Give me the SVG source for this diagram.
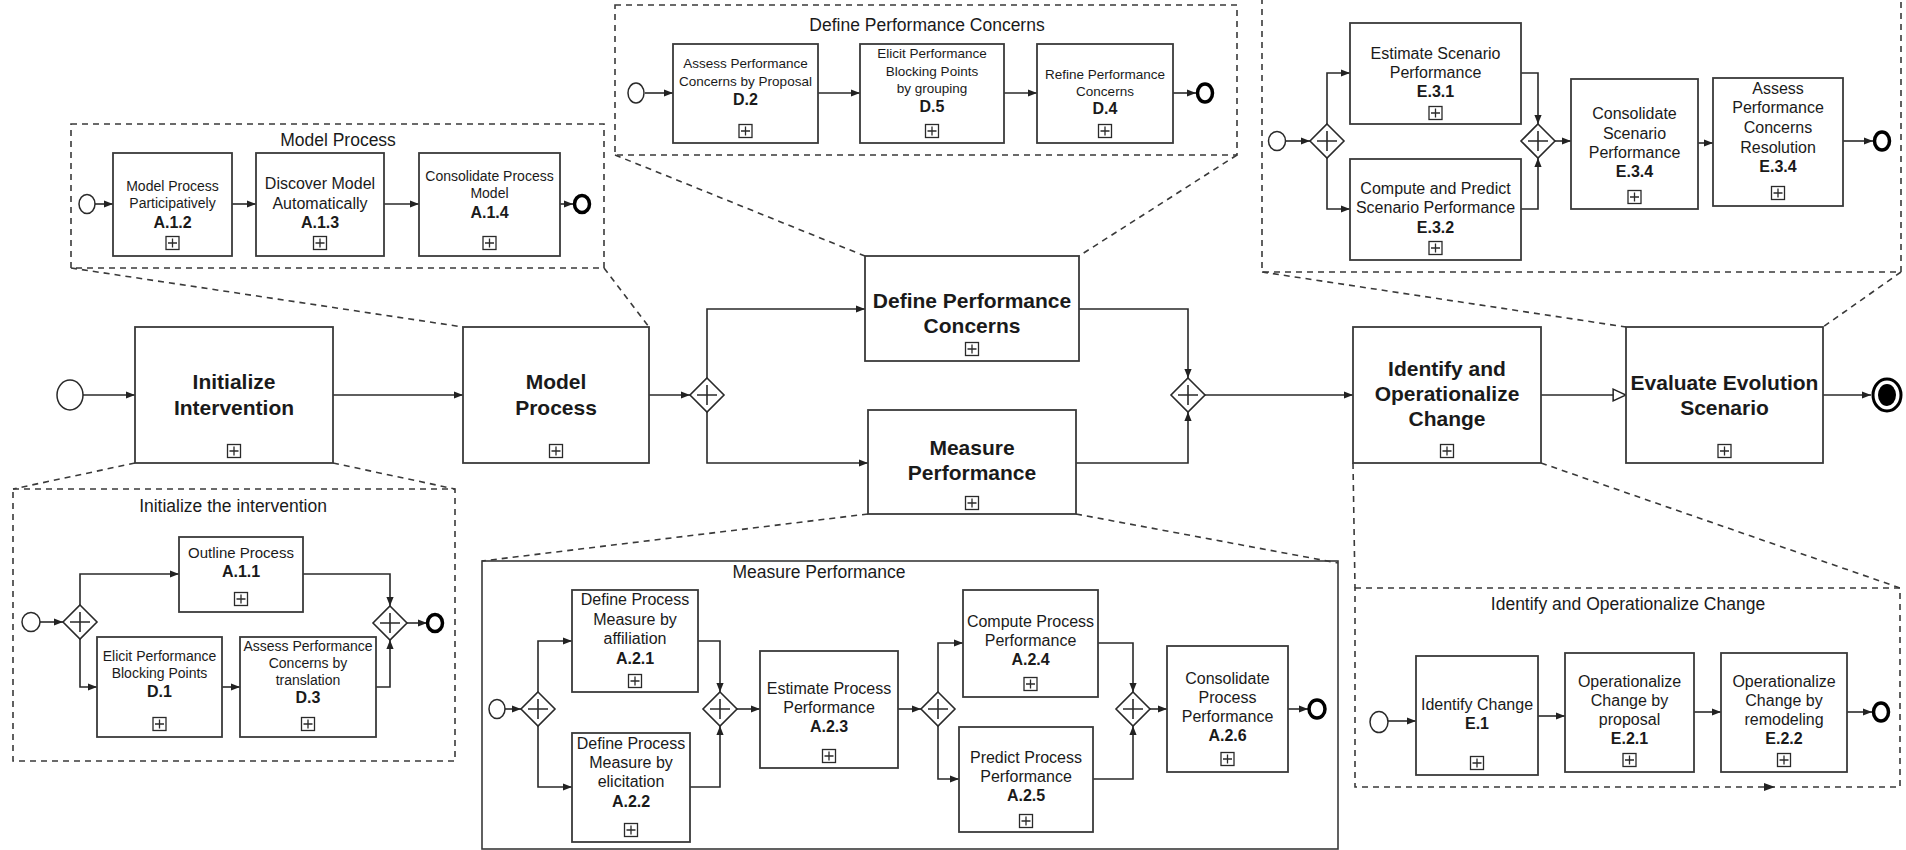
<svg xmlns="http://www.w3.org/2000/svg" xmlns:xlink="http://www.w3.org/1999/xlink" width="1906" height="850" viewBox="0 0 1906 850">
<style>
.box{fill:#fff;stroke:#3a3a3a;stroke-width:1.8}
.dash{fill:none;stroke:#3a3a3a;stroke-width:1.6;stroke-dasharray:6 5}
.fl{fill:none;stroke:#2a2a2a;stroke-width:1.6;marker-end:url(#a)}
.st{fill:#fff;stroke:#2a2a2a;stroke-width:1.5}
.en{fill:#fff;stroke:#000;stroke-width:3.5}
text{font-family:"Liberation Sans",Arial,Helvetica,sans-serif;text-anchor:middle;dominant-baseline:central;fill:#1a1a1a}
.m{font-size:21px;font-weight:bold}
.ti{font-size:17.5px}
.b{font-weight:bold}
.s13{font-size:13.5px}
.s14{font-size:14px}
.s16{font-size:16px}
</style>
<defs>
<marker id="a" viewBox="0 0 10 10" refX="10" refY="5" markerWidth="9" markerHeight="9" markerUnits="userSpaceOnUse" orient="auto"><path d="M0,1 L10,5 L0,9 Z" fill="#222"/></marker>
<marker id="o" viewBox="0 0 14 14" refX="13" refY="7" markerWidth="15" markerHeight="15" markerUnits="userSpaceOnUse" orient="auto"><path d="M1,1.5 L13,7 L1,12.5 Z" fill="#fff" stroke="#222" stroke-width="1.4"/></marker>
<g id="gw"><path d="M0,-17 L17,0 L0,17 L-17,0 Z" fill="#fff" stroke="#2a2a2a" stroke-width="1.6"/><path d="M0,-10 V10 M-10,0 H10" stroke="#2a2a2a" stroke-width="1.6"/></g>
<g id="pl"><rect x="-6.5" y="-6.5" width="13" height="13" fill="#fff" stroke="#2a2a2a" stroke-width="1.3"/><path d="M0,-4.5 V4.5 M-4.5,0 H4.5" stroke="#2a2a2a" stroke-width="1.3"/></g>
</defs>
<rect x="0" y="0" width="1906" height="850" fill="#fff"/>

<!-- Sub-process panels (expansion frames) -->
<g id="panel-model-process">
<rect class="dash" x="71" y="124" width="533" height="144"/>
<text class="ti" x="338" y="140">Model Process</text>
</g>
<g id="panel-define-concerns">
<rect class="dash" x="615" y="5" width="622" height="150"/>
<text class="ti" x="927" y="25">Define Performance Concerns</text>
</g>
<g id="panel-evaluate">
<path class="dash" d="M1262,-2 V272 H1901 V-2"/>
</g>
<g id="panel-initialize">
<rect class="dash" x="13" y="489" width="442" height="272"/>
<text class="ti" x="233" y="506">Initialize the intervention</text>
</g>
<g id="panel-measure">
<rect x="482" y="561" width="856" height="288" fill="none" stroke="#3a3a3a" stroke-width="1.6"/>
<text class="ti" x="819" y="572">Measure Performance</text>
</g>
<g id="panel-identify">
<rect class="dash" x="1355" y="588" width="545" height="199"/>
<text class="ti" x="1628" y="604">Identify and Operationalize Change</text>
<path d="M1764,783 L1775,787 L1764,791 Z" fill="#222"/>
</g>

<!-- Connectors -->
<g id="connectors">
<!-- expansion lines -->
<path class="dash" d="M71,268 L463,327"/>
<path class="dash" d="M604,268 L649,327"/>
<path class="dash" d="M615,155 L865,256"/>
<path class="dash" d="M1237,155 L1079,256"/>
<path class="dash" d="M1262,272 L1626,327"/>
<path class="dash" d="M1901,272 L1823,327"/>
<path class="dash" d="M135,463 L13,489"/>
<path class="dash" d="M333,463 L455,489"/>
<path class="dash" d="M868,514 L482,561"/>
<path class="dash" d="M1076,514 L1338,563"/>
<path class="dash" d="M1353,463 L1355,588"/>
<path class="dash" d="M1541,463 L1900,588"/>
<!-- main flows -->
<path class="fl" d="M83,395 H135"/>
<path class="fl" d="M333,395 H463"/>
<path class="fl" d="M649,395 H690"/>
<path class="fl" d="M707,378 V309 H865"/>
<path class="fl" d="M707,412 V463 H868"/>
<path class="fl" d="M1079,309 H1188 V378"/>
<path class="fl" d="M1076,463 H1188 V412"/>
<path class="fl" d="M1205,395 H1353"/>
<path fill="none" stroke="#2a2a2a" stroke-width="1.6" marker-end="url(#o)" d="M1541,395 H1626"/>
<path class="fl" d="M1823,395 H1871"/>
<!-- model process -->
<path class="fl" d="M95,204 H113"/>
<path class="fl" d="M232,204 H256"/>
<path class="fl" d="M384,204 H419"/>
<path class="fl" d="M560,204 H573"/>
<!-- define concerns -->
<path class="fl" d="M645,93 H673"/>
<path class="fl" d="M818,93 H860"/>
<path class="fl" d="M1004,93 H1037"/>
<path class="fl" d="M1173,93 H1196"/>
<!-- evaluate -->
<path class="fl" d="M1286,141 H1310"/>
<path class="fl" d="M1327,124 V73 H1350"/>
<path class="fl" d="M1327,158 V209 H1350"/>
<path class="fl" d="M1521,73 H1538 V124"/>
<path class="fl" d="M1521,209 H1538 V158"/>
<path class="fl" d="M1555,141 H1571"/>
<path class="fl" d="M1698,143 H1713"/>
<path class="fl" d="M1843,141 H1873"/>
<!-- initialize -->
<path class="fl" d="M40,622 H63"/>
<path class="fl" d="M80,605 V574 H179"/>
<path class="fl" d="M80,639 V687 H97"/>
<path class="fl" d="M222,687 H240"/>
<path class="fl" d="M376,687 H390 V640"/>
<path class="fl" d="M303,574 H390 V606"/>
<path class="fl" d="M407,623 H427"/>
<!-- measure -->
<path class="fl" d="M505,709 H521"/>
<path class="fl" d="M538,692 V641 H572"/>
<path class="fl" d="M538,726 V787 H572"/>
<path class="fl" d="M698,641 H720 V692"/>
<path class="fl" d="M690,787 H720 V726"/>
<path class="fl" d="M737,709 H760"/>
<path class="fl" d="M898,709 H921"/>
<path class="fl" d="M938,692 V643 H963"/>
<path class="fl" d="M938,726 V779 H959"/>
<path class="fl" d="M1098,643 H1133 V692"/>
<path class="fl" d="M1093,779 H1133 V726"/>
<path class="fl" d="M1150,709 H1167"/>
<path class="fl" d="M1288,709 H1308"/>
<!-- identify -->
<path class="fl" d="M1388,721 H1416"/>
<path class="fl" d="M1538,716 H1565"/>
<path class="fl" d="M1694,712 H1721"/>
<path class="fl" d="M1847,712 H1872"/>
</g>

<!-- Main process nodes -->
<g id="start-main"><ellipse class="st" cx="70" cy="395" rx="13" ry="15"/></g>
<g id="initialize-intervention">
<rect class="box" x="135" y="327" width="198" height="136"/>
<text class="m" x="234" y="381">Initialize</text>
<text class="m" x="234" y="407">Intervention</text>
<use href="#pl" x="234" y="451"/>
</g>
<g id="model-process">
<rect class="box" x="463" y="327" width="186" height="136"/>
<text class="m" x="556" y="381">Model</text>
<text class="m" x="556" y="407">Process</text>
<use href="#pl" x="556" y="451"/>
</g>
<g id="gateway-split"><use href="#gw" x="707" y="395"/></g>
<g id="define-performance-concerns">
<rect class="box" x="865" y="256" width="214" height="105"/>
<text class="m" x="972" y="300">Define Performance</text>
<text class="m" x="972" y="325">Concerns</text>
<use href="#pl" x="972" y="349"/>
</g>
<g id="measure-performance">
<rect class="box" x="868" y="410" width="208" height="104"/>
<text class="m" x="972" y="447">Measure</text>
<text class="m" x="972" y="472">Performance</text>
<use href="#pl" x="972" y="503"/>
</g>
<g id="gateway-join"><use href="#gw" x="1188" y="395"/></g>
<g id="identify-operationalize-change">
<rect class="box" x="1353" y="327" width="188" height="136"/>
<text class="m" x="1447" y="368">Identify and</text>
<text class="m" x="1447" y="393">Operationalize</text>
<text class="m" x="1447" y="418">Change</text>
<use href="#pl" x="1447" y="451"/>
</g>
<g id="evaluate-evolution-scenario">
<rect class="box" x="1626" y="327" width="197" height="136"/>
<text class="m" x="1724.5" y="382">Evaluate Evolution</text>
<text class="m" x="1724.5" y="407">Scenario</text>
<use href="#pl" x="1724.5" y="451"/>
</g>
<g id="end-main">
<ellipse cx="1887" cy="395" rx="14" ry="16" fill="#fff" stroke="#000" stroke-width="3"/>
<ellipse cx="1887" cy="395" rx="9" ry="11" fill="#000"/>
</g>

<!-- Model Process sub-nodes -->
<g id="mp-start"><ellipse class="st" cx="87" cy="204" rx="8" ry="9.5"/></g>
<g id="a12">
<rect class="box" x="113" y="153" width="119" height="103"/>
<text class="s14" x="172.5" y="186">Model Process</text>
<text class="s14" x="172.5" y="203">Participatively</text>
<text class="b" font-size="16" x="172.5" y="222">A.1.2</text>
<use href="#pl" x="172.5" y="243"/>
</g>
<g id="a13">
<rect class="box" x="256" y="153" width="128" height="103"/>
<text class="s16" x="320" y="183">Discover Model</text>
<text class="s16" x="320" y="203">Automatically</text>
<text class="b" font-size="16" x="320" y="222">A.1.3</text>
<use href="#pl" x="320" y="243"/>
</g>
<g id="a14">
<rect class="box" x="419" y="153" width="141" height="103"/>
<text class="s14" x="489.5" y="176">Consolidate Process</text>
<text class="s14" x="489.5" y="193">Model</text>
<text class="b" font-size="16" x="489.5" y="212">A.1.4</text>
<use href="#pl" x="489.5" y="243"/>
</g>
<g id="mp-end"><ellipse class="en" cx="582" cy="204" rx="7.5" ry="8.5"/></g>

<!-- Define Performance Concerns sub-nodes -->
<g id="dpc-start"><ellipse class="st" cx="636" cy="93" rx="8" ry="10"/></g>
<g id="d2">
<rect class="box" x="673" y="44" width="145" height="99"/>
<text class="s13" x="745.5" y="63">Assess Performance</text>
<text class="s13" x="745.5" y="81">Concerns by Proposal</text>
<text class="b" font-size="16" x="745.5" y="99">D.2</text>
<use href="#pl" x="745.5" y="131"/>
</g>
<g id="d5">
<rect class="box" x="860" y="44" width="144" height="99"/>
<text class="s13" x="932" y="53">Elicit Performance</text>
<text class="s13" x="932" y="71">Blocking Points</text>
<text class="s13" x="932" y="88">by grouping</text>
<text class="b" font-size="16" x="932" y="106">D.5</text>
<use href="#pl" x="932" y="131"/>
</g>
<g id="d4">
<rect class="box" x="1037" y="44" width="136" height="99"/>
<text class="s13" x="1105" y="74">Refine Performance</text>
<text class="s13" x="1105" y="91">Concerns</text>
<text class="b" font-size="16" x="1105" y="108">D.4</text>
<use href="#pl" x="1105" y="131"/>
</g>
<g id="dpc-end"><ellipse class="en" cx="1205" cy="93" rx="7.5" ry="9"/></g>

<!-- Evaluate Evolution Scenario sub-nodes -->
<g id="ees-start"><ellipse class="st" cx="1277" cy="141" rx="8.5" ry="9.5"/></g>
<g id="ees-gw1"><use href="#gw" x="1327" y="141"/></g>
<g id="e31">
<rect class="box" x="1350" y="23" width="171" height="101"/>
<text class="s16" x="1435.5" y="53">Estimate Scenario</text>
<text class="s16" x="1435.5" y="72">Performance</text>
<text class="b" font-size="16" x="1435.5" y="91">E.3.1</text>
<use href="#pl" x="1435.5" y="113"/>
</g>
<g id="e32">
<rect class="box" x="1350" y="159" width="171" height="101"/>
<text class="s16" x="1435.5" y="188">Compute and Predict</text>
<text class="s16" x="1435.5" y="207">Scenario Performance</text>
<text class="b" font-size="16" x="1435.5" y="227">E.3.2</text>
<use href="#pl" x="1435.5" y="248"/>
</g>
<g id="ees-gw2"><use href="#gw" x="1538" y="141"/></g>
<g id="e34-consolidate">
<rect class="box" x="1571" y="79" width="127" height="130"/>
<text class="s16" x="1634.5" y="113">Consolidate</text>
<text class="s16" x="1634.5" y="133">Scenario</text>
<text class="s16" x="1634.5" y="152">Performance</text>
<text class="b" font-size="16" x="1634.5" y="171">E.3.4</text>
<use href="#pl" x="1634.5" y="197"/>
</g>
<g id="e34-assess">
<rect class="box" x="1713" y="78" width="130" height="128"/>
<text class="s16" x="1778" y="88">Assess</text>
<text class="s16" x="1778" y="107">Performance</text>
<text class="s16" x="1778" y="127">Concerns</text>
<text class="s16" x="1778" y="147">Resolution</text>
<text class="b" font-size="16" x="1778" y="166">E.3.4</text>
<use href="#pl" x="1778" y="193"/>
</g>
<g id="ees-end"><ellipse class="en" cx="1882" cy="141" rx="7.5" ry="9"/></g>

<!-- Initialize the intervention sub-nodes -->
<g id="ii-start"><ellipse class="st" cx="31" cy="622" rx="9" ry="9.5"/></g>
<g id="ii-gw1"><use href="#gw" x="80" y="622"/></g>
<g id="a11">
<rect class="box" x="179" y="537" width="124" height="75"/>
<text font-size="15" x="241" y="552">Outline Process</text>
<text class="b" font-size="16" x="241" y="571">A.1.1</text>
<use href="#pl" x="241" y="599"/>
</g>
<g id="d1">
<rect class="box" x="97" y="637" width="125" height="100"/>
<text class="s14" x="159.5" y="656">Elicit Performance</text>
<text class="s14" x="159.5" y="673">Blocking Points</text>
<text class="b" font-size="16" x="159.5" y="691">D.1</text>
<use href="#pl" x="159.5" y="724"/>
</g>
<g id="d3">
<rect class="box" x="240" y="637" width="136" height="100"/>
<text class="s14" x="308" y="646">Assess Performance</text>
<text class="s14" x="308" y="663">Concerns by</text>
<text class="s14" x="308" y="680">translation</text>
<text class="b" font-size="16" x="308" y="697">D.3</text>
<use href="#pl" x="308" y="724"/>
</g>
<g id="ii-gw2"><use href="#gw" x="390" y="623"/></g>
<g id="ii-end"><ellipse class="en" cx="435" cy="623" rx="7.5" ry="8.5"/></g>

<!-- Measure Performance sub-nodes -->
<g id="mpf-start"><ellipse class="st" cx="497" cy="709" rx="8" ry="9.5"/></g>
<g id="mpf-gw1"><use href="#gw" x="538" y="709"/></g>
<g id="a21">
<rect class="box" x="572" y="590" width="126" height="102"/>
<text class="s16" x="635" y="599">Define Process</text>
<text class="s16" x="635" y="619">Measure by</text>
<text class="s16" x="635" y="638">affiliation</text>
<text class="b" font-size="16" x="635" y="658">A.2.1</text>
<use href="#pl" x="635" y="681"/>
</g>
<g id="a22">
<rect class="box" x="572" y="733" width="118" height="109"/>
<text class="s16" x="631" y="743">Define Process</text>
<text class="s16" x="631" y="762">Measure by</text>
<text class="s16" x="631" y="781">elicitation</text>
<text class="b" font-size="16" x="631" y="801">A.2.2</text>
<use href="#pl" x="631" y="830"/>
</g>
<g id="mpf-gw2"><use href="#gw" x="720" y="709"/></g>
<g id="a23">
<rect class="box" x="760" y="651" width="138" height="117"/>
<text class="s16" x="829" y="688">Estimate Process</text>
<text class="s16" x="829" y="707">Performance</text>
<text class="b" font-size="16" x="829" y="726">A.2.3</text>
<use href="#pl" x="829" y="756"/>
</g>
<g id="mpf-gw3"><use href="#gw" x="938" y="709"/></g>
<g id="a24">
<rect class="box" x="963" y="590" width="135" height="107"/>
<text class="s16" x="1030.5" y="621">Compute Process</text>
<text class="s16" x="1030.5" y="640">Performance</text>
<text class="b" font-size="16" x="1030.5" y="659">A.2.4</text>
<use href="#pl" x="1030.5" y="684"/>
</g>
<g id="a25">
<rect class="box" x="959" y="727" width="134" height="105"/>
<text class="s16" x="1026" y="757">Predict Process</text>
<text class="s16" x="1026" y="776">Performance</text>
<text class="b" font-size="16" x="1026" y="795">A.2.5</text>
<use href="#pl" x="1026" y="821"/>
</g>
<g id="mpf-gw4"><use href="#gw" x="1133" y="709"/></g>
<g id="a26">
<rect class="box" x="1167" y="646" width="121" height="126"/>
<text class="s16" x="1227.5" y="678">Consolidate</text>
<text class="s16" x="1227.5" y="697">Process</text>
<text class="s16" x="1227.5" y="716">Performance</text>
<text class="b" font-size="16" x="1227.5" y="735">A.2.6</text>
<use href="#pl" x="1227.5" y="759"/>
</g>
<g id="mpf-end"><ellipse class="en" cx="1317" cy="709" rx="8" ry="9"/></g>

<!-- Identify and Operationalize Change sub-nodes -->
<g id="ioc-start"><ellipse class="st" cx="1379" cy="722" rx="9" ry="10.5"/></g>
<g id="e1">
<rect class="box" x="1416" y="656" width="122" height="119"/>
<text class="s16" x="1477" y="704">Identify Change</text>
<text class="b" font-size="16" x="1477" y="723">E.1</text>
<use href="#pl" x="1477" y="763"/>
</g>
<g id="e21">
<rect class="box" x="1565" y="653" width="129" height="119"/>
<text class="s16" x="1629.5" y="681">Operationalize</text>
<text class="s16" x="1629.5" y="700">Change by</text>
<text class="s16" x="1629.5" y="719">proposal</text>
<text class="b" font-size="16" x="1629.5" y="738">E.2.1</text>
<use href="#pl" x="1629.5" y="760"/>
</g>
<g id="e22">
<rect class="box" x="1721" y="653" width="126" height="119"/>
<text class="s16" x="1784" y="681">Operationalize</text>
<text class="s16" x="1784" y="700">Change by</text>
<text class="s16" x="1784" y="719">remodeling</text>
<text class="b" font-size="16" x="1784" y="738">E.2.2</text>
<use href="#pl" x="1784" y="760"/>
</g>
<g id="ioc-end"><ellipse class="en" cx="1881" cy="712" rx="7.5" ry="9"/></g>
</svg>
